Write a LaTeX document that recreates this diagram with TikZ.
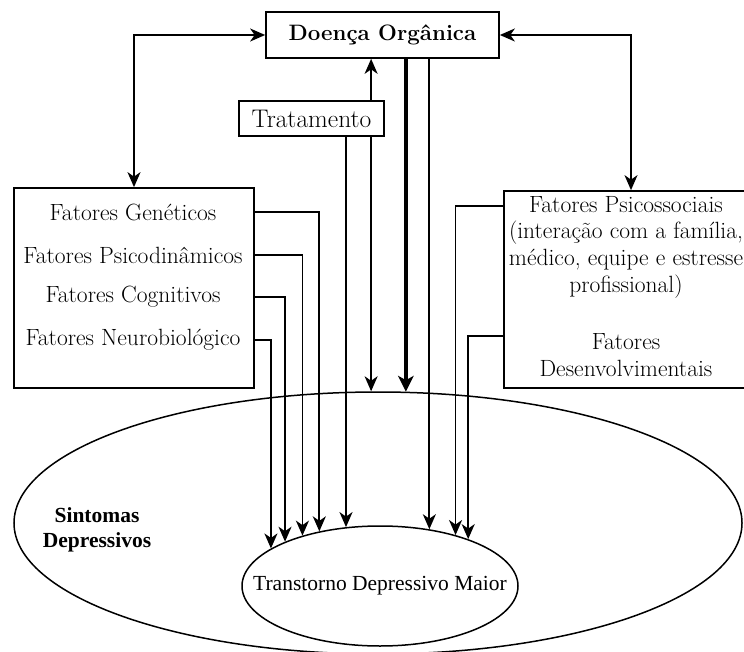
\documentclass[tikz,border=0pt]{standalone}
\usepackage{fontspec}
\newfontfamily\timesfont{Liberation Serif}
\usetikzlibrary{arrows.meta,shapes.geometric}

\tikzset{
  caixa/.style={draw, line width=1.7pt, inner sep=0pt},
  elipse/.style={draw, ellipse, line width=1.5pt, inner sep=0pt},
  texto/.style={font=\fontsize{23.5}{26.7}\selectfont, align=center, inner sep=0pt},
  seta/.style={-{Stealth[length=15pt,width=13pt,inset=4.5pt]}, line width=1.8pt},
  dupla/.style={{Stealth[length=15pt,width=13pt,inset=4.5pt]}-{Stealth[length=15pt,width=13pt,inset=4.5pt]}, line width=1.8pt},
  grossa/.style={-{Stealth[length=16pt,width=16pt,inset=4.5pt,line width=0pt]}, line width=4.5pt}
}

\begin{document}
\begin{tikzpicture}[x=1pt,y=-1pt]
\useasboundingbox (0,0) rectangle (744,652);

\node[caixa, minimum width=233pt, minimum height=46pt, font=\fontsize{22.3}{26}\selectfont\bfseries] (doenca) at (382.5,35) {Doença Orgânica};
\node[caixa, minimum width=145pt, minimum height=35pt, font=\fontsize{25.5}{28}\selectfont] (trat) at (311.5,118.5) {Tratamento};

\node[caixa, minimum width=240pt, minimum height=200pt] (fatesq) at (134,288) {};
\node[texto] (gen) at (133,212) {Fatores Genéticos};
\node[texto] (psicod) at (133,255) {Fatores Psicodinâmicos};
\node[texto] (cogn) at (133,297) {Fatores Cognitivos};
\node[texto] (neuro) at (133,340) {Fatores Neurobiológico};

\node[caixa, minimum width=254pt, minimum height=197pt] (fatdir) at (631,289.5) {};
\node[texto] (psicos) at (626,247) {Fatores Psicossociais\\(interação com a família,\\médico, equipe e estresse\\profissional)};
\node[texto] (desenv) at (626,355) {Fatores\\Desenvolvimentais};

\node[elipse, minimum width=728pt, minimum height=262pt] (sintomas) at (378,523) {};
\node[texto, font=\timesfont\bfseries\fontsize{21.5}{25}\selectfont] (sintlab) at (97,530) {Sintomas\\Depressivos};
\node[elipse, minimum width=276pt, minimum height=120pt, font=\timesfont\fontsize{21.5}{25}\selectfont] (tdm) at (380,586) {\makebox[0pt]{Transtorno Depressivo Maior}};

\draw[dupla] (fatesq.north) |- (doenca.west);
\draw[dupla] (fatdir.north) |- (doenca.east);

\draw[seta] (trat.north -| sintomas.93.9) -- (doenca.south -| sintomas.93.9);
\draw[seta] (trat.south -| sintomas.93.9) -- (sintomas.93.9);
\draw[grossa] (doenca.south -| sintomas.78.75) -- (sintomas.78.75);
\draw[seta] (trat.south -| tdm.120.3) -- (tdm.120.3);
\draw[seta] (doenca.south -| tdm.49.5) -- (tdm.49.5);

\draw[seta] (fatesq.east |- gen) -| (tdm.138);
\draw[seta] (fatesq.east |- psicod) -| (tdm.147.6);
\draw[seta] (fatesq.east |- cogn) -| (tdm.155);
\draw[seta] (fatesq.east |- neuro) -| (tdm.161.8);

\draw[seta] ([yshift=-10pt]psicos.north -| fatdir.west) -| (tdm.34.9);
\draw[seta] ([yshift=-3pt]desenv.north -| fatdir.west) -| (tdm.28.2);
\end{tikzpicture}
\end{document}
